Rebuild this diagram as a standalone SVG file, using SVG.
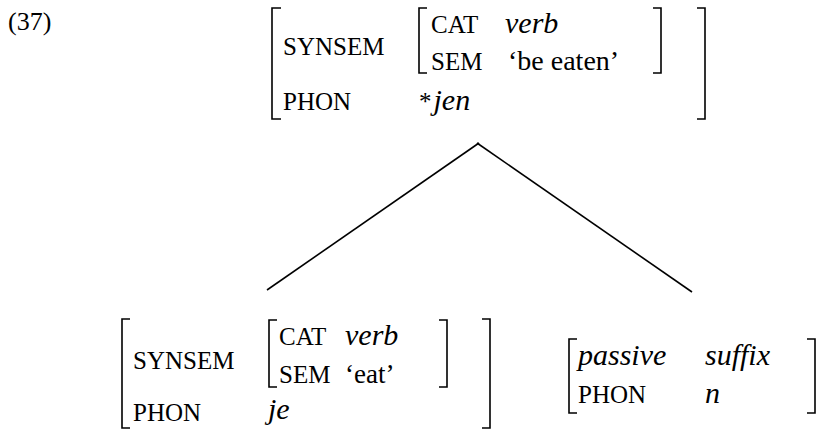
<svg xmlns="http://www.w3.org/2000/svg" width="818" height="431" viewBox="0 0 818 431" font-family="'Liberation Serif', 'DejaVu Serif', serif">
<style>
  text { font-family: "Liberation Serif", "DejaVu Serif", serif; fill: #000; }
  .r { font-size: 25px; }
  .i { font-size: 30px; font-style: italic; }
  .br { fill: none; stroke: #000; stroke-width: 1.6; }
  .edge { stroke: #000; stroke-width: 1.6; fill: none; }
</style>
<text class="r" x="8" y="30" style="font-size:26px">(37)</text>

<g id="mother">
  <path class="br" d="M281,8 H272 V119 H281"/>
  <text class="r" x="283" y="55">SYNSEM</text>
  <text class="r" x="283" y="110">PHON</text>
  <path class="br" d="M427,8 H419 V73 H427"/>
  <text class="r" x="431" y="33">CAT</text>
  <text class="i" x="505" y="33">verb</text>
  <text class="r" x="431" y="70">SEM</text>
  <text class="r" x="508" y="70" style="font-size:28px">‘be eaten’</text>
  <path class="br" d="M653,8 H661 V73 H653"/>
  <text class="r" x="419" y="110">*<tspan class="i" dx="2">jen</tspan></text>
  <path class="br" d="M697,8 H705 V119 H697"/>
</g>

<g id="connectors">
  <line class="edge" x1="479" y1="143" x2="267" y2="290"/>
  <line class="edge" x1="477" y1="143" x2="692" y2="292"/>
</g>

<g id="je">
  <path class="br" d="M130,319 H122 V428 H130"/>
  <text class="r" x="133" y="369">SYNSEM</text>
  <text class="r" x="133" y="421">PHON</text>
  <path class="br" d="M277,320 H269 V387 H277"/>
  <text class="r" x="279" y="345">CAT</text>
  <text class="i" x="345" y="345">verb</text>
  <text class="r" x="279" y="383">SEM</text>
  <text class="r" x="345" y="383" style="font-size:27px">‘eat’</text>
  <path class="br" d="M439,320 H447 V387 H439"/>
  <text class="i" x="268" y="419">je</text>
  <path class="br" d="M482,319 H490 V428 H482"/>
</g>

<g id="suffix">
  <path class="br" d="M577,339 H569 V413 H577"/>
  <text class="i" x="578" y="365">passive</text>
  <text class="i" x="705" y="365">suffix</text>
  <text class="r" x="578" y="403">PHON</text>
  <text class="i" x="705" y="403">n</text>
  <path class="br" d="M807,339 H815 V413 H807"/>
</g>
</svg>
